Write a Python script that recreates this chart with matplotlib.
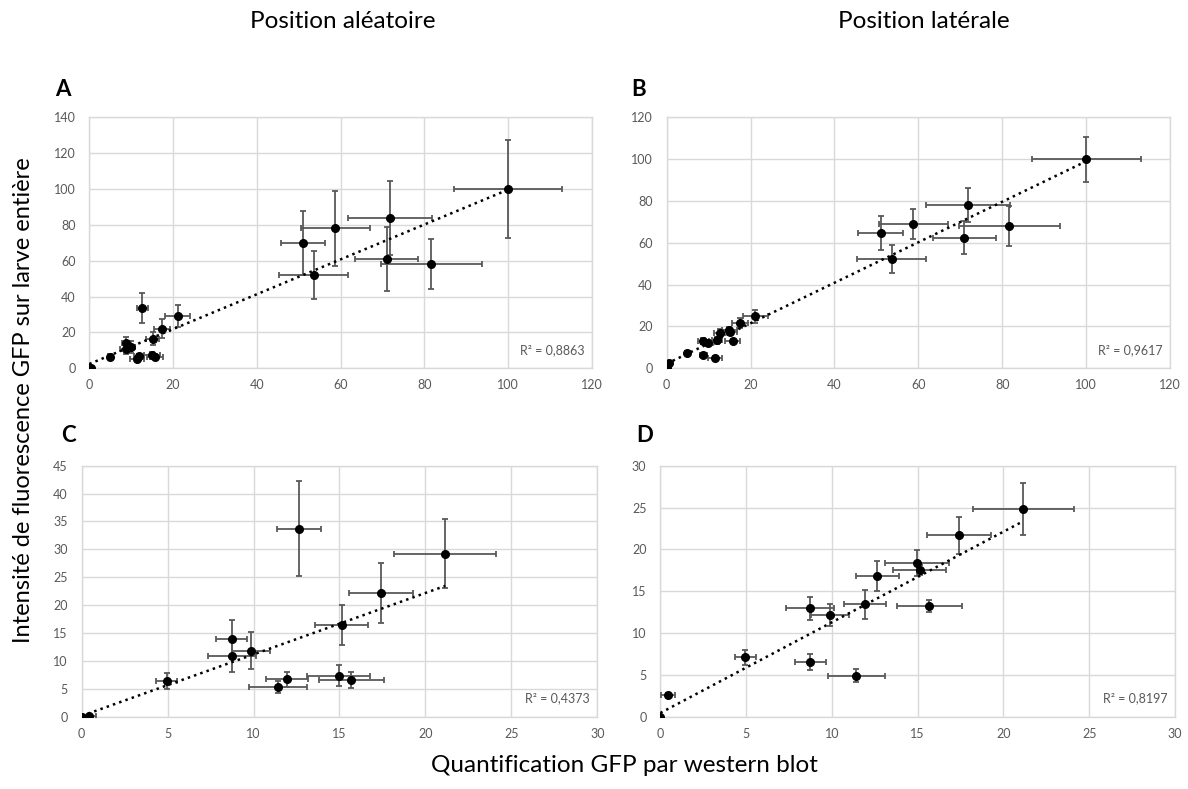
import numpy as np
import matplotlib
matplotlib.use("Agg")
import matplotlib.pyplot as plt

plt.rcParams['font.family'] = ['Lato', 'DejaVu Sans']

# Données : quantification western blot (x) et intensité de fluorescence (y)
# points communs aux 4 graphiques (valeurs faibles)
x_bas = [0, 0.44, 4.95, 8.73, 8.75, 9.87, 11.42, 11.92, 12.65, 14.95, 15.12, 15.69, 17.42, 21.15]
xerr_bas = [0, 0.4, 0.6, 0.9, 1.4, 1.1, 1.66, 1.22, 1.27, 1.85, 1.56, 1.9, 1.88, 2.95]

# position aléatoire (A et C)
y_alea_bas = [0, 0.15, 6.4, 13.93, 10.94, 11.83, 5.3, 6.7, 33.7, 7.35, 16.44, 6.57, 22.18, 29.23]
yerr_alea_bas = [0, 0.1, 1.4, 3.4, 3.0, 3.3, 1.1, 1.4, 8.5, 1.9, 3.55, 1.4, 5.4, 6.2]
# position latérale (B et D)
y_lat_bas = [0, 2.55, 7.13, 6.53, 12.95, 12.19, 4.9, 13.43, 16.77, 18.4, 17.53, 13.23, 21.67, 24.78]
yerr_lat_bas = [0, 0.3, 0.9, 0.95, 1.37, 1.33, 0.75, 1.77, 1.8, 1.55, 0.6, 0.72, 2.25, 3.1]

# points supplémentaires (valeurs élevées, A et B seulement)
x_haut = [51.0, 53.6, 58.8, 71.0, 71.9, 81.7, 100]
xerr_haut = [5.3, 8.2, 8.3, 7.5, 10.0, 12.1, 13.0]
y_alea_haut = [69.7, 52.2, 78.1, 61.0, 84.0, 58.0, 100]
yerr_alea_haut = [17.8, 13.3, 21.0, 18.0, 20.7, 13.9, 27.4]
y_lat_haut = [64.5, 52.3, 68.8, 62.5, 78.1, 68.0, 100]
yerr_lat_haut = [8.1, 6.85, 7.2, 8.0, 8.0, 9.7, 10.8]

r2_textes = ['R² = 0,8863', 'R² = 0,9617', 'R² = 0,4373', 'R² = 0,8197']
lettres = ['A', 'B', 'C', 'D']

gris = '#595959'
grille = '#d9d9d9'

fig = plt.figure(figsize=(11.88, 7.89), dpi=100)

W, H = 1188, 789
def pos(gauche, droite, haut, bas):
    return [gauche / W, 1 - bas / H, (droite - gauche) / W, (bas - haut) / H]

axA = fig.add_axes(pos(89.3, 591.7, 117.3, 368.3))
axB = fig.add_axes(pos(666.7, 1170, 117.3, 368.3))
axC = fig.add_axes(pos(81.7, 597.3, 465.7, 716.7))
axD = fig.add_axes(pos(660.3, 1175, 465.7, 716.7))

panneaux = [
    (axA, x_bas + x_haut, xerr_bas + xerr_haut, y_alea_bas + y_alea_haut, yerr_alea_bas + yerr_alea_haut, 120, 140, 20, 20),
    (axB, x_bas + x_haut, xerr_bas + xerr_haut, y_lat_bas + y_lat_haut, yerr_lat_bas + yerr_lat_haut, 120, 120, 20, 20),
    (axC, x_bas, xerr_bas, y_alea_bas, yerr_alea_bas, 30, 45, 5, 5),
    (axD, x_bas, xerr_bas, y_lat_bas, yerr_lat_bas, 30, 30, 5, 5),
]

for i, (ax, x, xe, y, ye, xmax, ymax, xpas, ypas) in enumerate(panneaux):
    x = np.array(x)
    y = np.array(y)
    ax.errorbar(x, y, xerr=xe, yerr=ye, fmt='o', color='black', ms=5.5,
                ecolor=gris, elinewidth=1.3, capsize=2.5, capthick=1.3, zorder=3)
    # courbe de tendance linéaire
    a, b = np.polyfit(x, y, 1)
    xt = np.array([x.min(), x.max()])
    ax.plot(xt, a * xt + b, color='black', ls=':', lw=1.8, zorder=4)

    ax.set_xlim(0, xmax)
    ax.set_ylim(0, ymax)
    ax.set_xticks(np.arange(0, xmax + 0.1, xpas))
    ax.set_yticks(np.arange(0, ymax + 0.1, ypas))
    ax.grid(True, color=grille, lw=1)
    ax.set_axisbelow(True)
    for s in ax.spines.values():
        s.set_color(grille)
        s.set_linewidth(1)
    ax.tick_params(length=0, labelsize=9, labelcolor=gris)
    ax.tick_params(axis='y', pad=10)
    ax.tick_params(axis='x', pad=8)
    ax.text(0.986, 0.073, r2_textes[i], transform=ax.transAxes, ha='right',
            va='center', fontsize=9, color=gris)

# lettres des panneaux
lettres_pos = [(63, 89), (639, 89), (68, 436), (645, 436)]
for lettre, (px, py) in zip(lettres, lettres_pos):
    fig.text(px / W, 1 - py / H, lettre, fontsize=16, fontweight='bold', ha='center', va='center')

fig.text(343 / W, 1 - 21 / H, 'Position aléatoire', fontsize=17.5, ha='center', va='center')
fig.text(924 / W, 1 - 21 / H, 'Position latérale', fontsize=17.5, ha='center', va='center')
fig.text(624 / W, 1 - 766 / H, 'Quantification GFP par western blot', fontsize=17.5, ha='center', va='center')
fig.text(24 / W, 1 - 400 / H, 'Intensité de fluorescence GFP sur larve entière', fontsize=17,
         ha='center', va='center', rotation=90)

fig.savefig('out.png', dpi=100)
